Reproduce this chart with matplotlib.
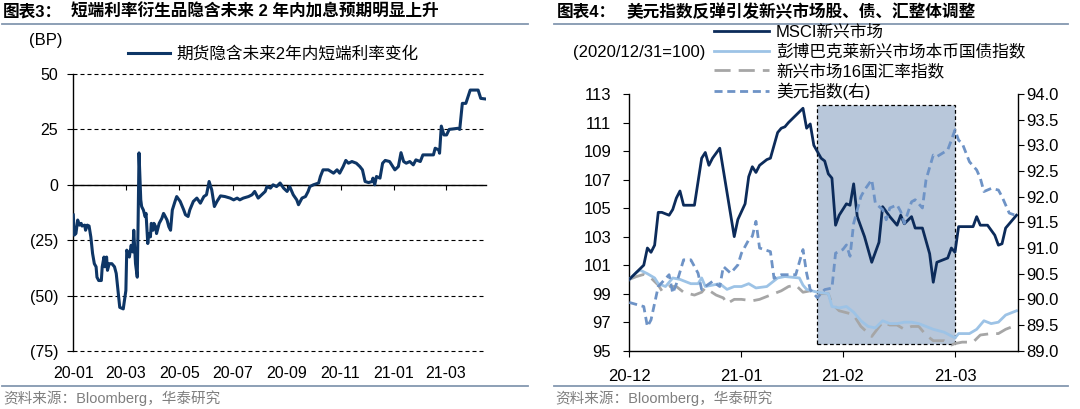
import numpy as np
import pandas as pd
import matplotlib
matplotlib.use('Agg')
import matplotlib.pyplot as plt
import matplotlib.dates as mdates
from matplotlib.lines import Line2D
from matplotlib.patches import Rectangle
from matplotlib.ticker import FuncFormatter, FormatStrFormatter

plt.rcParams['font.family'] = ['Liberation Sans', 'Noto Sans CJK SC']
plt.rcParams['axes.unicode_minus'] = False

# ---------------- data: left chart (days since 2020-01-01, bp) ----------------
left_base = '2020-01-01'
rate_day = [0, 1, 3, 5, 7, 9, 10, 13, 14, 16,
            18, 20, 22, 24, 26, 27, 29, 32, 33, 35,
            36, 38, 39, 41, 44, 47, 49, 51, 53, 57,
            60, 61, 64, 66, 68, 69, 71, 73, 74, 75,
            77, 78, 80, 82, 83, 85, 86, 88, 89, 91,
            92, 94, 95, 98, 101, 103, 104, 107, 109, 111,
            113, 116, 118, 122, 126, 128, 131, 133, 137, 141,
            145, 149, 152, 155, 158, 161, 164, 168, 173, 179,
            183, 187, 190, 194, 200, 204, 207, 211, 215, 219,
            221, 225, 228, 232, 236, 240, 244, 247, 251, 255,
            257, 261, 265, 268, 270, 274, 280, 282, 285, 291,
            297, 301, 304, 308, 311, 314, 318, 323, 327, 330,
            333, 337, 341, 342, 344, 346, 350, 353, 356, 361,
            367, 371, 374, 377, 380, 384, 388, 391, 396, 399,
            411, 413, 417, 418, 420, 423, 426, 429, 439, 441,
            444, 448, 453, 462, 465, 471]
rate_val = [-13.6, -22.7, -22, -15.9, -18.2, -17.4, -18.6, -18.2, -20.5, -18.2,
            -18.6, -23.5, -31, -35.6, -37, -41.7, -43.2, -43.2, -37, -32.6,
            -37, -32.6, -38.6, -35.6, -35.6, -37, -40, -47.7, -55.3, -56,
            -47.7, -29.5, -32.6, -27.3, -30.3, -20.5, -35.6, -41.7, -15.9, 14.4,
            -6.8, -9.8, -11.4, -14.4, -12.9, -26.5, -22, -23.5, -17.4, -20.5,
            -17.4, -18.9, -22, -17.4, -15.2, -12.9, -13.6, -15.9, -18.9, -20.5,
            -11.4, -7.6, -5.3, -7.5, -11.3, -13.5, -14.3, -11.3, -7.5, -6,
            -8.3, -5.3, -4.5, 1.5, -2.3, -9.8, -7.5, -5, -5.3, -6,
            -6.8, -6, -6.8, -6, -5.3, -4.5, -3, -6, -4.5, -3,
            -0.8, -1.5, 0, -0.8, 0.8, -1.5, -3, -0.8, -4.5, -6.8,
            -9, -6, -5.3, -3, -0.8, 0, 0.8, 3.75, 6.75, 6.75,
            5.25, 6.75, 5.25, 8.25, 11, 9.75, 10.5, 9.75, 8.25, 6.75,
            1.5, 1, 1.5, 3, 0, 3.75, 3, 9.75, 11, 10.5,
            6.75, 8.25, 14.5, 10.5, 9.75, 10.5, 9, 11.25, 10.5, 13.5,
            13.5, 16.5, 15.75, 14.25, 26.5, 22.5, 22.5, 25, 25.5, 25,
            36.75, 36.75, 42.75, 42.75, 39, 38.7]
left_yticks = [-75, -50, -25, 0, 25, 50]
left_tick_months = [1, 3, 5, 7, 9, 11]
left_end_day = 471
left_label = '期货隐含未来2年内短端利率变化'

# ---------------- data: right chart (days since 2020-12-31) ----------------
right_base = '2020-12-31'
msci_day = [0, 4, 5, 6, 7, 8, 9, 11, 12, 13, 14, 15, 18, 20, 21, 22, 23, 25,
            29, 30, 32, 33, 34, 35, 36, 38, 39, 41, 42, 43, 44, 46, 48, 49, 50,
            51, 53, 54, 55, 56, 57, 58, 60, 61, 62, 63, 65, 67, 69, 70, 72, 74,
            75, 76, 78, 79, 81, 83, 84, 85, 88, 89, 90, 91, 95, 96, 97, 99, 101,
            102, 103, 104, 107]
msci_val = [100.0, 101.0, 102.2, 101.9, 102.4, 104.7, 104.7, 104.5, 104.9, 105.7, 106.2, 105.2, 105.2, 108.5, 108.9, 108.0, 108.5, 109.2,
            103.0, 104.2, 105.3, 107.2, 107.9, 107.5, 108.0, 108.4, 108.5, 110.3, 110.6, 110.7, 111.0, 111.5, 112.0, 110.6, 110.9,
            109.4, 108.5, 108.3, 107.4, 107.1, 103.8, 104.5, 105.3, 105.2, 106.7, 104.4, 103.0, 101.2, 102.6, 105.1, 104.4, 103.8,
            104.5, 103.9, 104.4, 103.6, 103.6, 101.8, 99.8, 101.2, 101.5, 102.2, 101.9, 103.7, 103.7, 104.4, 103.8, 103.8, 103.1,
            102.4, 102.5, 103.6, 104.5]
bond_day = [0, 2, 3, 5, 7, 8, 10, 12, 14, 17, 19, 20, 21, 23, 25, 27, 29, 31, 33, 35,
            38, 41, 43, 47, 48, 49, 52, 55, 56, 58, 60, 62, 64, 66, 68, 70, 72, 74, 76, 78,
            80, 82, 84, 87, 90, 91, 94, 96, 98, 100, 102, 104, 107]
bond_val = [100.0, 100.5, 100.65, 100.4, 100.1, 99.7, 99.5, 100.1, 100.0, 99.7, 99.7, 100.1, 99.5, 99.6, 99.7, 99.3, 99.5, 99.5, 99.7, 99.4,
            99.5, 100.1, 100.2, 100.1, 99.6, 99.3, 99.1, 99.0, 98.1, 98.0, 98.1, 97.7, 97.1, 96.7, 96.6, 97.1, 96.9, 96.9, 97.0, 97.0,
            96.9, 96.7, 96.5, 96.3, 95.9, 96.2, 96.2, 96.5, 97.1, 96.9, 97.0, 97.5, 97.8]
fx_day = [0, 2, 4, 6, 8, 9, 11, 13, 15, 18, 20, 21, 24, 26, 27, 29, 31, 34, 36, 39,
          42, 44, 46, 48, 50, 52, 55, 56, 58, 61, 62, 64, 67, 70, 72, 74, 76, 78, 80, 82,
          84, 87, 89, 90, 92, 95, 97, 100, 102, 104, 107]
fx_val = [100.0, 100.2, 100.35, 100.1, 99.6, 99.2, 99.5, 99.5, 99.1, 98.9, 99.1, 99.4, 98.9, 98.7, 98.3, 98.6, 98.6, 98.5, 98.6, 98.9,
          99.2, 99.5, 99.6, 99.1, 99.2, 99.0, 99.0, 98.3, 97.8, 97.6, 97.5, 96.7, 96.0, 97.0, 96.8, 96.8, 96.5, 96.7, 96.7, 96.1,
          95.7, 95.7, 95.4, 95.5, 95.6, 95.6, 96.1, 96.2, 96.2, 96.5, 96.8]
usd_day = [0, 4, 5, 6, 8, 11, 12, 13, 15, 17, 19, 20, 21, 23, 25, 26, 28, 30, 31, 33,
           34, 35, 36, 39, 40, 42, 46, 48, 49, 50, 52, 53, 54, 56, 57, 59, 60, 61, 62, 64,
           65, 67, 68, 70, 71, 72, 74, 75, 76, 78, 79, 81, 82, 84, 85, 88, 89, 90, 91, 92,
           94, 96, 97, 98, 100, 102, 103, 105, 107]
usd_val = [89.94, 89.86, 89.47, 89.6, 90.25, 90.48, 90.12, 90.3, 90.77, 90.77, 90.51, 90.19, 90.25, 90.35, 90.25, 90.64, 90.51, 90.67, 90.9, 91.16,
           91.23, 91.52, 91.0, 90.93, 90.41, 90.48, 90.48, 90.97, 90.51, 90.19, 90.03, 90.12, 90.19, 90.22, 90.9, 90.97, 91.06, 90.84, 91.48, 92.0,
           92.13, 92.33, 91.87, 91.75, 91.55, 91.78, 91.84, 91.71, 91.48, 91.9, 91.94, 91.78, 92.33, 92.81, 92.78, 92.91, 93.1, 93.3, 93.1, 93.04,
           92.68, 92.52, 92.36, 92.1, 92.16, 92.13, 92.0, 91.68, 91.63]
right_end_day = 107.5
right_tick_dates = ['2020-12-31', '2021-01-31', '2021-02-28', '2021-03-31']
right_yticks = [95, 97, 99, 101, 103, 105, 107, 109, 111, 113]
right2_yticks = [89.0, 89.5, 90.0, 90.5, 91.0, 91.5, 92.0, 92.5, 93.0, 93.5, 94.0]
shade_start, shade_end = '2021-02-21', '2021-03-31'
shade_lo, shade_hi = 95.5, 112.2
right_labels = ['MSCI新兴市场', '彭博巴克莱新兴市场本币国债指数', '新兴市场16国汇率指数', '美元指数(右)']

# ---------------- figure ----------------
W, H = 1080, 409
fig = plt.figure(figsize=(W / 100, H / 100), dpi=100)


def fxp(px):
    return px / W


def fyp(py):
    return 1 - py / H


def rect(x0, y0, x1, y1):
    return [fxp(x0), fyp(y1), fxp(x1) - fxp(x0), fyp(y0) - fyp(y1)]


NAVY = '#0E3666'
FS = 11.5

# ---- left chart ----
axL = fig.add_axes(rect(73.3, 74, 486, 351))
lb = pd.Timestamp(left_base)
rate_dates = lb + pd.to_timedelta(rate_day, unit='D')
lineL, = axL.plot(rate_dates, rate_val, color=NAVY, lw=2.2, zorder=5)
axL.set_xlim(lb, lb + pd.Timedelta(days=left_end_day))
axL.set_ylim(left_yticks[0], left_yticks[-1])
axL.set_yticks(left_yticks)
axL.yaxis.set_major_formatter(FuncFormatter(lambda v, p: f'({abs(int(v))})' if v < 0 else f'{int(v)}'))
axL.yaxis.grid(True, color='black', lw=0.8, linestyle=(0, (3.6, 2.7)))
for gl in axL.get_ygridlines():
    gl.set_clip_on(False)
for s in ['top', 'right', 'bottom']:
    axL.spines[s].set_visible(False)
axL.spines['left'].set_linewidth(1.0)
axL.tick_params(axis='y', length=4, width=0.8, pad=7, labelsize=FS, direction='out')
axL.xaxis.set_major_locator(mdates.MonthLocator(bymonth=left_tick_months))
axL.xaxis.set_major_formatter(mdates.DateFormatter('%y-%m'))
axL.tick_params(axis='x', length=0, pad=11, labelsize=FS)
zero_frac = (0 - left_yticks[0]) / (left_yticks[-1] - left_yticks[0])
sec = axL.secondary_xaxis(zero_frac)
sec.xaxis.set_major_locator(mdates.MonthLocator(bymonth=left_tick_months))
sec.tick_params(axis='x', direction='in', length=3.5, width=0.8, labeltop=False, labelbottom=False)
for s in sec.spines.values():
    s.set_linewidth(1.0)

fig.legend([lineL], [left_label], loc='center left', bbox_to_anchor=(fxp(128), fyp(54)),
           frameon=False, fontsize=12, handlelength=2.52, handletextpad=0.36,
           borderpad=0, borderaxespad=0)
fig.text(fxp(29.5), fyp(40), '(BP)', fontsize=12, va='center', ha='left')

# ---- right chart ----
axR = fig.add_axes(rect(629.3, 94, 1018.3, 350.7))
rb = pd.Timestamp(right_base)


def rdates(days):
    return rb + pd.to_timedelta(days, unit='D')


axR.add_patch(Rectangle((mdates.date2num(pd.Timestamp(shade_start)), shade_lo),
                        mdates.date2num(pd.Timestamp(shade_end)) - mdates.date2num(pd.Timestamp(shade_start)),
                        shade_hi - shade_lo, facecolor='#B8C7DA', edgecolor='black', lw=0.9,
                        linestyle=(0, (3, 2)), zorder=1))
l1, = axR.plot(rdates(msci_day), msci_val, color='#0C2B5A', lw=2.0, zorder=5)
l2, = axR.plot(rdates(bond_day), bond_val, color='#9DC3E6', lw=2.0, zorder=4)
l3, = axR.plot(rdates(fx_day), fx_val, color='#A6A6A6', lw=2.0, dashes=(5.8, 2.9), zorder=3)
axR.set_xlim(rb, rb + pd.Timedelta(days=right_end_day))
axR.set_ylim(right_yticks[0], right_yticks[-1])
axR.set_yticks(right_yticks)
axR.set_xticks(pd.to_datetime(right_tick_dates))
axR.xaxis.set_major_formatter(mdates.DateFormatter('%y-%m'))
for s in ['top', 'right']:
    axR.spines[s].set_visible(False)
for s in ['left', 'bottom']:
    axR.spines[s].set_linewidth(1.0)
axR.tick_params(axis='y', length=4, width=0.8, pad=9, labelsize=12, direction='out')
axR.tick_params(axis='x', length=4, width=0.8, pad=9, labelsize=12, direction='out')

axR2 = axR.twinx()
l4, = axR2.plot(rdates(usd_day), usd_val, color='#6E93C6', lw=2.0, dashes=(2.9, 1.7), zorder=3)
axR2.set_ylim(right2_yticks[0], right2_yticks[-1])
axR2.set_yticks(right2_yticks)
axR2.yaxis.set_major_formatter(FormatStrFormatter('%.1f'))
for s in ['top', 'left', 'bottom']:
    axR2.spines[s].set_visible(False)
axR2.spines['right'].set_linewidth(1.0)
axR2.tick_params(axis='y', length=4, width=0.8, pad=2, labelsize=12, direction='out')

fig.legend([l1, l2, l3, l4], right_labels, loc='upper left', bbox_to_anchor=(fxp(714), fyp(25)),
           frameon=False, fontsize=12, handlelength=3.3, handletextpad=0.42,
           borderpad=0, borderaxespad=0, labelspacing=0.22)
fig.text(fxp(573), fyp(52), '(2020/12/31=100)', fontsize=12, va='center', ha='left')

# ---- titles, separators, sources ----
fig.text(fxp(3), fyp(12), '图表3：', fontsize=12, fontweight='bold', va='center')
fig.text(fxp(71), fyp(12), '短端利率衍生品隐含未来 2 年内加息预期明显上升', fontsize=12, fontweight='bold', va='center')
fig.text(fxp(557), fyp(12), '图表4：', fontsize=12, fontweight='bold', va='center')
fig.text(fxp(626.5), fyp(12), '美元指数反弹引发新兴市场股、债、汇整体调整', fontsize=12, fontweight='bold', va='center')

SEP = '#8497B0'
for x0, x1 in [(2, 528), (554, 1068)]:
    fig.add_artist(Line2D([fxp(x0), fxp(x1)], [fyp(23.5)] * 2, transform=fig.transFigure, color=SEP, lw=1.3))
    fig.add_artist(Line2D([fxp(x0), fxp(x1)], [fyp(385.7)] * 2, transform=fig.transFigure, color=SEP, lw=1.3))

fig.text(fxp(3), fyp(398), '资料来源：Bloomberg，华泰研究', fontsize=10.5, color='#7F7F7F', va='center')
fig.text(fxp(555), fyp(398), '资料来源：Bloomberg，华泰研究', fontsize=10.5, color='#7F7F7F', va='center')

fig.savefig('out.png', dpi=100)
